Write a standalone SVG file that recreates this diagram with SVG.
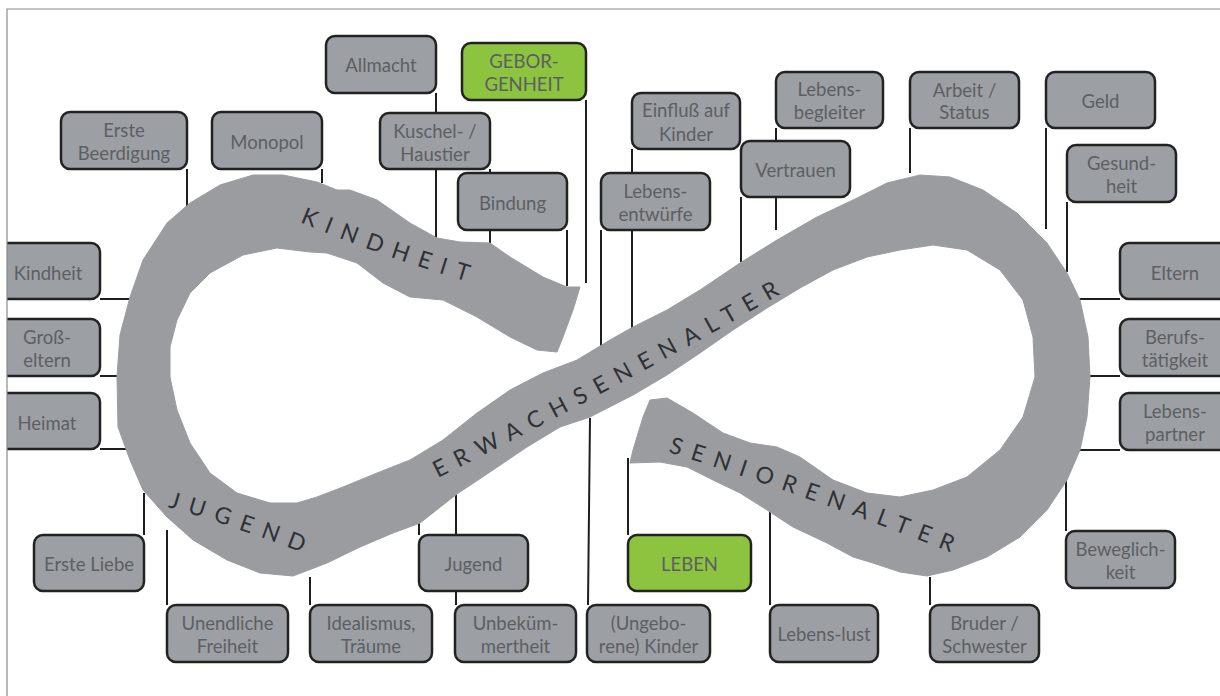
<svg xmlns="http://www.w3.org/2000/svg" width="1220" height="696" viewBox="0 0 1220 696">
<defs>
<style>
.box{fill:#9c9fa3;stroke:#222;stroke-width:2.5}
.green{fill:#8cc43f;stroke:#222;stroke-width:2.5}
.t{font-family:Lato,"Liberation Sans",sans-serif;font-size:18.5px;fill:#5c5f63;text-anchor:middle}
.con{stroke:#1e1e1e;stroke-width:2;fill:none}
.band{fill:#9a9c9f;stroke:#9a9c9f;stroke-width:1;stroke-linejoin:round}
.bt{font-family:Lato,"Liberation Sans",sans-serif;font-size:23px;fill:#2e3135;letter-spacing:10px}
</style>
<path id="pK" d="M300,222 Q380,256 482,286"/>
<path id="pJ" d="M168,507 Q240,528 322,560"/>
<path id="pE" d="M438,478 Q615,390 805,280"/>
<path id="pS" d="M668,452 Q820,500 965,558"/>
</defs>
<rect width="1220" height="696" fill="#fff"/>
<g id="connectors">
<path class="con" d="M436,93V243M490,169V243M586,100V283M567,230V286M187,169V207M322,169V183M632,149V330M601,230V347M741,197V262M776,128V230M910,128V173M1046,128V229M1067,202V272"/>
<path class="con" d="M1077,299H1120M1090,376H1120M1077,450H1120M100,299H130M100,376H117M100,449H130"/>
<path class="con" d="M144,535V493M167,605V530M310,605V577M419,535V523M456,605V493M588,605L590,418M628,535V458M770,605V510M930,605V577M1066,531V477"/>
</g>
<g id="band">
<path class="band" d="M580,287 L567,287 L543,277 L510,257 L490,243 L460,242 L437,238 L410,223 L377,200 L350,190 L337,190 L317,182 L283,175 L253,175 L220,185 L190,203 L167,223 L143,260 L130,297 L120,335 L117,376 L118,427 L130,460 L143,490 L167,517 L193,540 L227,560 L260,573 L293,576 L327,563 L360,547 L393,533 L420,523 L457,494 L493,470 L527,447 L560,427 L590,417 L633,395 L667,375 L700,353 L733,330 L767,308 L800,288 L833,270 L867,257 L900,250 L933,245 L967,250 L1000,270 L1023,300 L1033,337 L1035,377 L1023,417 L1000,450 L967,477 L933,490 L900,497 L867,493 L833,480 L800,457 L777,447 L750,443 L723,433 L693,413 L667,398 L650,400 L643,417 L633,450 L630,463 L660,462 L687,467 L713,480 L740,493 L767,510 L793,527 L827,543 L853,557 L873,563 L900,572 L927,576 L953,570 L987,557 L1020,537 L1047,510 L1067,480 L1080,450 L1087,417 L1090,377 L1088,337 L1080,300 L1067,273 L1047,243 L1017,213 L983,190 L950,177 L920,175 L887,183 L853,200 L817,217 L777,240 L740,263 L700,290 L667,310 L633,327 L610,340 L577,360 L543,373 L510,390 L477,413 L443,440 L410,460 L377,473 L343,487 L317,497 L297,503 L270,503 L237,493 L210,473 L190,443 L177,410 L170,377 L170,347 L177,320 L190,293 L210,273 L243,255 L277,248 L310,252 L327,253 L357,263 L383,283 L410,297 L443,300 L477,317 L510,337 L537,350 L557,352 L563,337 L573,310 Z"/>
<text class="bt"><textPath href="#pK">KINDHEIT</textPath></text>
<text class="bt"><textPath href="#pJ">JUGEND</textPath></text>
<text class="bt"><textPath href="#pE">ERWACHSENENALTER</textPath></text>
<text class="bt"><textPath href="#pS">SENIORENALTER</textPath></text>
</g>
<g id="allmacht"><rect class="box" x="326" y="36" width="110" height="57" rx="9"/><text class="t" x="381" y="72">Allmacht</text></g>
<g id="kuschel"><rect class="box" x="380" y="113" width="110" height="56" rx="9"/><text class="t" x="435" y="138">Kuschel- /</text><text class="t" x="435" y="161">Haustier</text></g>
<g id="geborgenheit"><rect class="green" x="462" y="43" width="124" height="57" rx="9"/><text class="t" x="524" y="68">GEBOR-</text><text class="t" x="524" y="91">GENHEIT</text></g>
<g id="bindung"><rect class="box" x="458" y="173" width="109" height="57" rx="9"/><text class="t" x="512.5" y="210">Bindung</text></g>
<g id="erste-beerdigung"><rect class="box" x="61" y="112" width="126" height="57" rx="9"/><text class="t" x="124" y="137">Erste</text><text class="t" x="124" y="160">Beerdigung</text></g>
<g id="monopol"><rect class="box" x="212" y="112" width="110" height="57" rx="9"/><text class="t" x="267" y="149">Monopol</text></g>
<g id="einfluss"><rect class="box" x="632" y="93" width="108" height="56" rx="9"/><text class="t" x="686" y="117">Einfluß auf</text><text class="t" x="686" y="141">Kinder</text></g>
<g id="lebensentwuerfe"><rect class="box" x="601" y="173" width="109" height="57" rx="9"/><text class="t" x="655.5" y="198">Lebens-</text><text class="t" x="655.5" y="221">entwürfe</text></g>
<g id="lebensbegleiter"><rect class="box" x="776" y="72" width="107" height="56" rx="9"/><text class="t" x="829.5" y="96">Lebens-</text><text class="t" x="829.5" y="119">begleiter</text></g>
<g id="vertrauen"><rect class="box" x="741" y="141" width="109" height="56" rx="9"/><text class="t" x="795.5" y="177">Vertrauen</text></g>
<g id="arbeit"><rect class="box" x="910" y="72" width="109" height="56" rx="9"/><text class="t" x="964.5" y="97">Arbeit /</text><text class="t" x="964.5" y="119">Status</text></g>
<g id="geld"><rect class="box" x="1046" y="72" width="109" height="56" rx="9"/><text class="t" x="1100.5" y="108">Geld</text></g>
<g id="gesundheit"><rect class="box" x="1067" y="145" width="109" height="57" rx="9"/><text class="t" x="1121.5" y="170">Gesund-</text><text class="t" x="1121.5" y="193">heit</text></g>
<g id="eltern"><rect class="box" x="1120" y="243" width="112" height="56" rx="9"/><text class="t" x="1175" y="280">Eltern</text></g>
<g id="berufstaetigkeit"><rect class="box" x="1120" y="319" width="112" height="57" rx="9"/><text class="t" x="1175" y="344">Berufs-</text><text class="t" x="1175" y="367">tätigkeit</text></g>
<g id="lebenspartner"><rect class="box" x="1120" y="393" width="112" height="57" rx="9"/><text class="t" x="1175" y="418">Lebens-</text><text class="t" x="1175" y="441">partner</text></g>
<g id="kindheit"><rect class="box" x="-12" y="243" width="112" height="56" rx="9"/><text class="t" x="48" y="280">Kindheit</text></g>
<g id="grosseltern"><rect class="box" x="-12" y="319" width="112" height="57" rx="9"/><text class="t" x="47" y="344">Groß-</text><text class="t" x="47" y="367">eltern</text></g>
<g id="heimat"><rect class="box" x="-12" y="393" width="112" height="56" rx="9"/><text class="t" x="47" y="430">Heimat</text></g>
<g id="erste-liebe"><rect class="box" x="34" y="535" width="110" height="56" rx="9"/><text class="t" x="89" y="571">Erste Liebe</text></g>
<g id="unendliche-freiheit"><rect class="box" x="167" y="605" width="121" height="57" rx="9"/><text class="t" x="227.5" y="630">Unendliche</text><text class="t" x="227.5" y="653">Freiheit</text></g>
<g id="idealismus"><rect class="box" x="310" y="605" width="122" height="57" rx="9"/><text class="t" x="371" y="630">Idealismus,</text><text class="t" x="371" y="653">Träume</text></g>
<g id="jugend"><rect class="box" x="419" y="535" width="109" height="56" rx="9"/><text class="t" x="473.5" y="571">Jugend</text></g>
<g id="unbekuemmertheit"><rect class="box" x="455" y="605" width="121" height="57" rx="9"/><text class="t" x="515.5" y="630">Unbeküm-</text><text class="t" x="515.5" y="653">mertheit</text></g>
<g id="ungeborene-kinder"><rect class="box" x="587" y="605" width="123" height="57" rx="9"/><text class="t" x="648.5" y="630">(Ungebo-</text><text class="t" x="648.5" y="653">rene) Kinder</text></g>
<g id="leben"><rect class="green" x="628" y="535" width="123" height="56" rx="9"/><text class="t" x="689.5" y="571">LEBEN</text></g>
<g id="lebenslust"><rect class="box" x="770" y="605" width="108" height="57" rx="9"/><text class="t" x="824" y="641">Lebens-lust</text></g>
<g id="bruder-schwester"><rect class="box" x="930" y="605" width="109" height="57" rx="9"/><text class="t" x="984.5" y="630">Bruder /</text><text class="t" x="984.5" y="653">Schwester</text></g>
<g id="beweglichkeit"><rect class="box" x="1066" y="531" width="109" height="57" rx="9"/><text class="t" x="1120.5" y="556">Beweglich-</text><text class="t" x="1120.5" y="579">keit</text></g>
<g id="frame">
<rect x="0" y="0" width="7" height="696" fill="#fff"/>
<path d="M7,696V9H1220" fill="none" stroke="#8a8a8a" stroke-width="1.2"/>
</g>
</svg>
